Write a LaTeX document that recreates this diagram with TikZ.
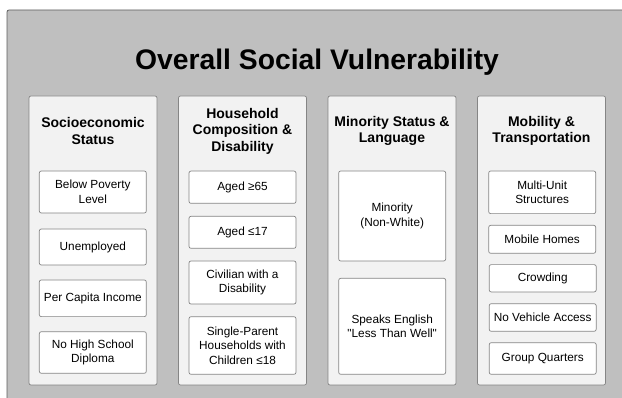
\documentclass[tikz,border=0pt]{standalone}
\usepackage{fontspec}
\setmainfont{Liberation Sans}[Ligatures=TeXOff]
\usepackage{tikz}

\definecolor{backgray}{HTML}{BFBFBF}
\definecolor{backedge}{HTML}{5E5E5E}
\definecolor{panelgray}{HTML}{F2F2F2}
\definecolor{edgegray}{HTML}{858585}

\begin{document}
\begin{tikzpicture}[x=1pt,y=-1pt,
  panel/.style={draw=edgegray, fill=panelgray, rounded corners=2pt, line width=0.7pt,
    minimum width=128pt, minimum height=289pt},
  head/.style={align=center, font=\fontsize{14}{16.5}\selectfont\bfseries},
  item/.style={draw=edgegray, fill=white, rounded corners=2pt, line width=0.7pt,
    minimum width=107pt, inner sep=0pt, align=center,
    font=\fontsize{11.8}{14.5}\selectfont}]
\useasboundingbox (0,0) rectangle (622,398);
\clip (0,0) rectangle (622,398);

% grey backdrop and title
\draw[fill=backgray, draw=backedge, line width=0.8pt, rounded corners=2pt] (7,10) rectangle (650,420);
\node[font=\fontsize{28.3}{34}\selectfont\bfseries] (title) at (317,62) {Overall Social Vulnerability};

% the four themes
\node[panel] (ses) at (93,240.5) {};
\node[panel] (hcd) at (242.5,240.5) {};
\node[panel] (msl) at (392,240.5) {};
\node[panel] (mot) at (541.5,240.5) {};

\node[head] (sesHead) at (93,131) {Socioeconomic\\Status};
\node[head] (hcdHead) at (242.5,131) {Household\\Composition \&\\Disability};
\node[head] (mslHead) at (392,131) {Minority Status \&\\Language};
\node[head] (motHead) at (541.5,131) {Mobility \&\\Transportation};

% socioeconomic status
\node[item, minimum height=42pt] (ses1) at (92.8,192) {Below Poverty\\Level};
\node[item, minimum height=36pt] (ses2) at (92.8,247) {Unemployed};
\node[item, minimum height=36.7pt] (ses3) at (92.8,298.3) {Per Capita Income};
\node[item, minimum height=41.6pt] (ses4) at (92.8,352.5) {No High School\\Diploma};

% household composition & disability
\node[item, minimum height=32.3pt] (hcd1) at (242.5,187.2) {Aged ≥65};
\node[item, minimum height=32pt] (hcd2) at (242.5,232.3) {Aged ≤17};
\node[item, minimum height=43pt] (hcd3) at (242.5,282.5) {Civilian with a\\Disability};
\node[item, minimum height=57.6pt] (hcd4) at (242.5,345.5) {Single-Parent\\Households with\\Children ≤18};

% minority status & language
\node[item, minimum height=90pt] (msl1) at (392.2,216) {Minority\\(Non-White)};
\node[item, minimum height=96pt] (msl2) at (392.2,326.3) {Speaks English\\"Less Than Well"};

% housing type & transportation
\node[item, minimum height=42.7pt] (mot1) at (542.2,192.3) {Multi-Unit\\Structures};
\node[item, minimum height=28pt] (mot2) at (542.2,239.3) {Mobile Homes};
\node[item, minimum height=27.3pt] (mot3) at (542.7,278.3) {Crowding};
\node[item, minimum height=27.6pt] (mot4) at (542.7,317.5) {No Vehicle Access};
\node[item, minimum height=31.6pt] (mot5) at (542.7,358.5) {Group Quarters};
\end{tikzpicture}
\end{document}
